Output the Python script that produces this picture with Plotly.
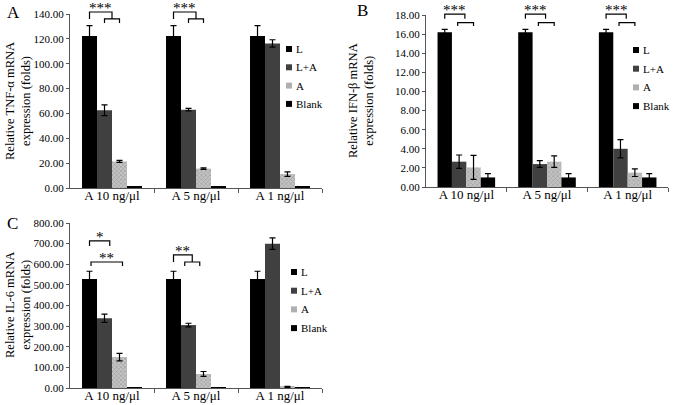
import plotly.graph_objects as go

# ---------------- data ----------------
categories = ["A 10 ng/μl", "A 5 ng/μl", "A 1 ng/μl"]
series_names = ["L", "L+A", "A", "Blank"]

tnf_L = [122.3, 122.3, 122.3]
tnf_L_err = [8.3, 8.3, 8.3]
tnf_LA = [62.6, 63.0, 116.3]
tnf_LA_err = [4.3, 1.0, 3.0]
tnf_A = [21.4, 15.6, 11.2]
tnf_A_err = [0.8, 0.6, 1.8]
tnf_Blank = [1.0, 1.0, 1.0]
tnf_Blank_err = [0.1, 0.1, 0.1]

ifn_L = [16.2, 16.2, 16.2]
ifn_L_err = [0.3, 0.3, 0.3]
ifn_LA = [2.65, 2.4, 4.0]
ifn_LA_err = [0.7, 0.35, 0.95]
ifn_A = [2.05, 2.65, 1.5]
ifn_A_err = [1.25, 0.6, 0.4]
ifn_Blank = [1.0, 1.0, 1.0]
ifn_Blank_err = [0.4, 0.4, 0.4]

il6_L = [528, 528, 528]
il6_L_err = [38, 38, 38]
il6_LA = [338, 305, 700]
il6_LA_err = [20, 9, 28]
il6_A = [150, 68, 5]
il6_A_err = [18, 12, 3]
il6_Blank = [1, 1, 1]
il6_Blank_err = [0, 0, 0]

y_titles = ["Relative TNF-α mRNA<br>expression (folds)",
            "Relative IFN-β mRNA<br>expression (folds)",
            "Relative IL-6 mRNA<br>expression (folds)"]
y_max = [140, 18, 800]
y_dtick = [20, 2, 100]
panel_letters = ["A", "B", "C"]

# ---------------- styling ----------------
FONT = "Liberation Serif"
colors = ["#000000", "#404040", "#b4b4b4", "#000000"]
legend_colors = ["#000000", "#404040", "#b0b0b0", "#000000"]
BARGAP = 0.286
W, H = 677, 405


def px_x(x):
    return x / W


def px_y(y):
    return 1 - y / H


panels = [
    dict(vals=[tnf_L, tnf_LA, tnf_A, tnf_Blank],
         errs=[tnf_L_err, tnf_LA_err, tnf_A_err, tnf_Blank_err],
         xdom=[px_x(70), px_x(322)], ydom=[px_y(188), px_y(14)], title_pos=(18, 101)),
    dict(vals=[ifn_L, ifn_LA, ifn_A, ifn_Blank],
         errs=[ifn_L_err, ifn_LA_err, ifn_A_err, ifn_Blank_err],
         xdom=[px_x(426), px_x(668)], ydom=[px_y(187), px_y(15)], title_pos=(361, 101)),
    dict(vals=[il6_L, il6_LA, il6_A, il6_Blank],
         errs=[il6_L_err, il6_LA_err, il6_A_err, il6_Blank_err],
         xdom=[px_x(70), px_x(322)], ydom=[px_y(388), px_y(223)], title_pos=(18, 305)),
]

# significance brackets: (group, left slot, right slot, top, left drop, right drop, label)
brackets = [
    [(0, 0, 1.5, 141.6, 136, 136, "***"), (0, 1, 2, 136, 132.8, 132.8, ""),
     (1, 0, 1.5, 141.6, 136, 136, "***"), (1, 1, 2, 136, 132.8, 132.8, "")],
    [(0, 0, 1.4, 18.1, 17.6, 17.6, "***"), (0, 0.9, 2, 17.2, 16.85, 16.85, ""),
     (1, 0, 1.4, 18.1, 17.6, 17.6, "***"), (1, 0.9, 2, 17.2, 16.85, 16.85, ""),
     (2, 0, 1.4, 18.1, 17.6, 17.6, "***"), (2, 0.9, 2, 17.2, 16.85, 16.85, "")],
    [(0, 0, 1.35, 713, 688, 688, "*"), (0, 0.1, 2.2, 611, 591, 591, "**"),
     (1, 0, 1.25, 645, 611, 611, "**"), (1, 0.75, 1.75, 611, 591, 591, "")],
]

# custom legend placement (pixels): square left x, first row centre y, row step
legend_pos = [(286, 49, 18.3), (633, 50, 18.7), (291, 272, 18.7)]

fig = go.Figure()
x_idx = list(range(len(categories)))
bar_w = (1 - BARGAP) / len(series_names)

shapes = []
annotations = []

for p, panel in enumerate(panels):
    sfx = "" if p == 0 else str(p + 1)
    xa, ya = "x" + sfx, "y" + sfx
    for s, name in enumerate(series_names):
        marker = dict(color=colors[s], line=dict(width=0))
        if name == "A":
            marker["pattern"] = dict(shape="x", fgcolor="#7a7a7a", bgcolor="#c4c4c4",
                                     size=3, solidity=0.4)
        fig.add_trace(go.Bar(
            x=x_idx, y=panel["vals"][s], name=name, xaxis=xa, yaxis=ya,
            marker=marker, showlegend=False,
            error_y=dict(type="data", array=panel["errs"][s], visible=True,
                         color="#000000", thickness=1.2, width=3),
        ))

    xkey = "xaxis" + sfx
    ykey = "yaxis" + sfx
    fig.layout[xkey] = dict(
        domain=panel["xdom"], anchor=ya, range=[-0.5, len(categories) - 0.5],
        automargin=False, ticklabeloverflow="allow", ticklabelstandoff=-5,
        tickmode="array", tickvals=x_idx, ticktext=categories, ticks="",
        showline=True, linecolor="#555555", linewidth=1, showgrid=False, zeroline=False,
        tickfont=dict(family=FONT, size=13, color="#000000"), fixedrange=True,
        minor=dict(tickmode="array", tickvals=[i + 0.5 for i in x_idx], ticks="outside",
                   ticklen=4, tickcolor="#555555", showgrid=False),
    )
    fig.layout[ykey] = dict(
        domain=panel["ydom"], anchor=xa, range=[0, y_max[p]], dtick=y_dtick[p],
        automargin=False, ticklabeloverflow="allow", fixedrange=True,
        tickformat=".2f", ticks="outside", ticklen=3, tickcolor="#555555",
        showline=True, linecolor="#555555", linewidth=1, showgrid=False, zeroline=False,
        tickfont=dict(family=FONT, size=11, color="#000000"),
    )

    # y-axis title placed explicitly
    tx, ty = panel["title_pos"]
    annotations.append(dict(
        x=px_x(tx), y=px_y(ty), xref="paper", yref="paper", text=y_titles[p],
        textangle=-90, showarrow=False, xanchor="center", yanchor="middle",
        font=dict(family=FONT, size=12.5, color="#000000"),
    ))

    # brackets in domain coordinates (not clipped)
    def xdomain(g, slot):
        x = g + (slot - 1.5) * bar_w
        return (x + 0.5) / len(categories)

    for (g, sl, sr, top, dl, dr, lab) in brackets[p]:
        xl, xr = xdomain(g, sl), xdomain(g, sr)
        yt, yl, yr = top / y_max[p], dl / y_max[p], dr / y_max[p]
        shapes.append(dict(
            type="path", xref=xa + " domain", yref=ya + " domain",
            path=f"M{xl},{yl} L{xl},{yt} L{xr},{yt} L{xr},{yr}",
            line=dict(color="#000000", width=1.2),
        ))
        if lab:
            annotations.append(dict(
                x=(xl + xr) / 2, y=yt, xref=xa + " domain", yref=ya + " domain",
                text=lab, showarrow=False, xanchor="center", yanchor="bottom",
                yshift=-6, font=dict(family=FONT, size=15, color="#000000"),
            ))

    # legend built from series names
    lx, ly, step = legend_pos[p]
    for s, name in enumerate(series_names):
        cy = ly + s * step
        shapes.append(dict(
            type="rect", xref="paper", yref="paper",
            x0=px_x(lx), x1=px_x(lx + 6), y0=px_y(cy + 3), y1=px_y(cy - 3),
            fillcolor=legend_colors[s], line=dict(width=0),
        ))
        annotations.append(dict(
            x=px_x(lx + 8), y=px_y(cy), xref="paper", yref="paper",
            text=name, showarrow=False, xanchor="left", yanchor="middle",
            font=dict(family=FONT, size=11, color="#000000"),
        ))

# panel letters
letter_pos = [(5, 12), (355, 11), (5, 224)]
for letter, (lx, ly) in zip(panel_letters, letter_pos):
    annotations.append(dict(
        x=px_x(lx), y=px_y(ly), xref="paper", yref="paper", text=letter,
        showarrow=False, xanchor="left", yanchor="middle",
        font=dict(family=FONT, size=17, color="#000000"),
    ))

fig.update_layout(
    width=W, height=H, margin=dict(l=0, r=0, t=0, b=0),
    paper_bgcolor="#ffffff", plot_bgcolor="#ffffff",
    barmode="group", bargap=BARGAP, bargroupgap=0,
    showlegend=False, shapes=shapes, annotations=annotations,
    font=dict(family=FONT, color="#000000"), hovermode=False,
)

# remove the default page margin so the 677x405 figure fills the window exactly
fig.write_html("out.html", config={"displayModeBar": False},
               post_script="document.body.style.margin='0';")
